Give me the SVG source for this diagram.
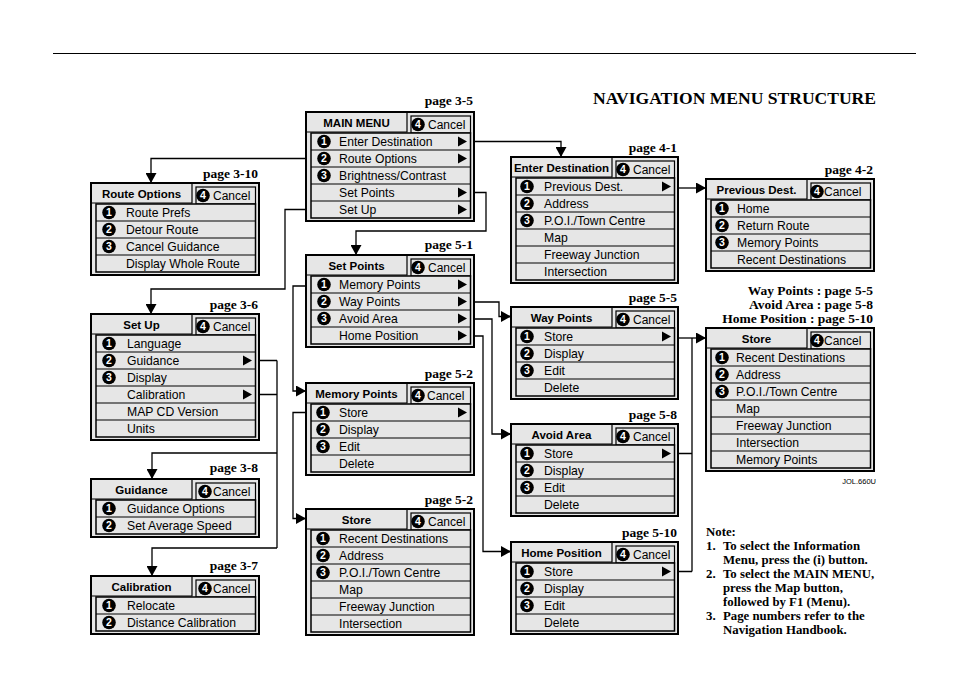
<svg xmlns="http://www.w3.org/2000/svg" width="954" height="685" viewBox="0 0 954 685">
<defs>
<style>
.outer{fill:#e6e6e6;stroke:#000;stroke-width:2}
.tab{fill:none;stroke:#000;stroke-width:1.2}
.ctab{fill:#e6e6e6;stroke:#000;stroke-width:1.2}
.list{fill:#e6e6e6;stroke:#000;stroke-width:1.5}
.sep{stroke:#000;stroke-width:1}
.ttl{font-family:"Liberation Sans",Arial,sans-serif;font-weight:bold;font-size:11.5px;text-anchor:middle;fill:#000}
.row{font-family:"Liberation Sans",Arial,sans-serif;font-size:12.2px;fill:#000}
.can{font-family:"Liberation Sans",Arial,sans-serif;font-size:12px;fill:#000}
.num{font-family:"Liberation Sans",Arial,sans-serif;font-weight:bold;font-size:10.5px;fill:#fff;text-anchor:middle}
.pg{font-family:"Liberation Serif","Times New Roman",serif;font-weight:bold;font-size:13.5px;text-anchor:end;fill:#000}
.note{font-family:"Liberation Serif","Times New Roman",serif;font-weight:bold;font-size:12.8px;fill:#000}
.conn{fill:none;stroke:#000;stroke-width:1.3}
</style>
<marker id="ah" markerUnits="userSpaceOnUse" markerWidth="11" markerHeight="11" refX="10" refY="5.5" orient="auto">
<path d="M0 0 L10 5.5 L0 11 Z" fill="#000"/>
</marker>
</defs>
<rect width="954" height="685" fill="#fff"/>
<line x1="53" y1="53.5" x2="916" y2="53.5" stroke="#000" stroke-width="1"/>
<text x="876" y="104" font-family="'Liberation Serif','Times New Roman',serif" font-weight="bold" font-size="17" text-anchor="end" textLength="283" lengthAdjust="spacingAndGlyphs">NAVIGATION MENU STRUCTURE</text>

<!-- page labels -->
<g id="pages">
<text class="pg" x="473" y="105">page 3-5</text>
<text class="pg" x="258" y="178">page 3-10</text>
<text class="pg" x="677" y="152">page 4-1</text>
<text class="pg" x="873" y="174">page 4-2</text>
<text class="pg" x="473" y="249">page 5-1</text>
<text class="pg" x="258" y="309">page 3-6</text>
<text class="pg" x="677" y="302">page 5-5</text>
<text class="pg" x="473" y="378">page 5-2</text>
<text class="pg" x="677" y="419">page 5-8</text>
<text class="pg" x="258" y="472">page 3-8</text>
<text class="pg" x="473" y="504">page 5-2</text>
<text class="pg" x="677" y="537">page 5-10</text>
<text class="pg" x="258" y="570">page 3-7</text>
<text class="pg" x="873" y="295">Way Points : page 5-5</text>
<text class="pg" x="873" y="309">Avoid Area : page 5-8</text>
<text class="pg" x="873" y="323">Home Position : page 5-10</text>
<text x="876" y="484" font-family="'Liberation Sans',Arial,sans-serif" font-size="7.5" text-anchor="end">JOL.660U</text>
</g>

<!-- connectors -->
<g id="connectors">
<path class="conn" marker-end="url(#ah)" d="M474 141.5 H561 V157"/>
<path class="conn" marker-end="url(#ah)" d="M306 158.5 H151 V183"/>
<path class="conn" marker-end="url(#ah)" d="M474 192.5 H486 V231 H356 V255"/>
<path class="conn" marker-end="url(#ah)" d="M306 209.5 H285 V289 H151 V314"/>
<path class="conn" marker-end="url(#ah)" d="M678 188 H706"/>
<path class="conn" marker-end="url(#ah)" d="M306 286 H293 V391 H306"/>
<path class="conn" marker-end="url(#ah)" d="M474 302 H499 V316.5 H511"/>
<path class="conn" marker-end="url(#ah)" d="M474 319 H492 V434 H511"/>
<path class="conn" marker-end="url(#ah)" d="M474 336 H483 V551.5 H511"/>
<path class="conn" marker-end="url(#ah)" d="M678 338 H706"/>
<path class="conn" d="M692 338 V571.5 M678 453.5 H692 M678 571.5 H692"/>
<path class="conn" marker-end="url(#ah)" d="M306 412.5 H293 V518.5 H306"/>
<path class="conn" d="M259 360.5 H277 M259 394.5 H277 M277 360.5 V548"/>
<path class="conn" marker-end="url(#ah)" d="M277 453 H152 V479"/>
<path class="conn" marker-end="url(#ah)" d="M277 548 H152 V576"/>
</g>

<!-- MAIN MENU -->
<g id="main-menu" transform="translate(306,112)">
<rect class="outer" x="0" y="0" width="168" height="109"/>
<path class="tab" d="M101 0 V20 H0"/>
<rect class="ctab" x="105" y="4" width="59.5" height="17"/>
<text class="ttl" x="50.5" y="14.5">MAIN MENU</text>
<circle cx="112" cy="12.5" r="6.8"/><text class="num" x="112" y="16.2">4</text><text class="can" x="122" y="17">Cancel</text>
<rect class="list" x="5" y="21" width="159.5" height="85"/>
<path class="sep" d="M5 38H164.5M5 55H164.5M5 72H164.5M5 89H164.5"/>
<circle cx="18" cy="29.5" r="6.8"/><text class="num" x="18" y="33.3">1</text>
<circle cx="18" cy="46.5" r="6.8"/><text class="num" x="18" y="50.3">2</text>
<circle cx="18" cy="63.5" r="6.8"/><text class="num" x="18" y="67.3">3</text>
<text class="row" x="33" y="33.8">Enter Destination</text>
<text class="row" x="33" y="50.8">Route Options</text>
<text class="row" x="33" y="67.8">Brightness/Contrast</text>
<text class="row" x="33" y="84.8">Set Points</text>
<text class="row" x="33" y="101.8">Set Up</text>
<path d="M152 24.5 L161 29.5 L152 34.5Z M152 41.5 L161 46.5 L152 51.5Z M152 75.5 L161 80.5 L152 85.5Z M152 92.5 L161 97.5 L152 102.5Z"/>
</g>

<!-- Route Options -->
<g id="route-options" transform="translate(91,183)">
<rect class="outer" x="0" y="0" width="168" height="92"/>
<path class="tab" d="M101 0 V20 H0"/>
<rect class="ctab" x="105" y="4" width="59.5" height="17"/>
<text class="ttl" x="50.5" y="14.5">Route Options</text>
<circle cx="112" cy="12.5" r="6.8"/><text class="num" x="112" y="16.2">4</text><text class="can" x="122" y="17">Cancel</text>
<rect class="list" x="5" y="21" width="159.5" height="68"/>
<path class="sep" d="M5 38H164.5M5 55H164.5M5 72H164.5"/>
<circle cx="18" cy="29.5" r="6.8"/><text class="num" x="18" y="33.3">1</text>
<circle cx="18" cy="46.5" r="6.8"/><text class="num" x="18" y="50.3">2</text>
<circle cx="18" cy="63.5" r="6.8"/><text class="num" x="18" y="67.3">3</text>
<text class="row" x="35" y="33.8">Route Prefs</text>
<text class="row" x="35" y="50.8">Detour Route</text>
<text class="row" x="35" y="67.8">Cancel Guidance</text>
<text class="row" x="35" y="84.8">Display Whole Route</text>
</g>

<!-- Enter Destination -->
<g id="enter-destination" transform="translate(511,157)">
<rect class="outer" x="0" y="0" width="167" height="126"/>
<path class="tab" d="M101 0 V20 H0"/>
<rect class="ctab" x="105" y="4" width="58.5" height="17"/>
<text class="ttl" x="50.5" y="14.5">Enter Destination</text>
<circle cx="112" cy="12.5" r="6.8"/><text class="num" x="112" y="16.2">4</text><text class="can" x="122" y="17">Cancel</text>
<rect class="list" x="5" y="21" width="158.5" height="102"/>
<path class="sep" d="M5 38H163.5M5 55H163.5M5 72H163.5M5 89H163.5M5 106H163.5"/>
<circle cx="16" cy="29.5" r="6.8"/><text class="num" x="16" y="33.3">1</text>
<circle cx="16" cy="46.5" r="6.8"/><text class="num" x="16" y="50.3">2</text>
<circle cx="16" cy="63.5" r="6.8"/><text class="num" x="16" y="67.3">3</text>
<text class="row" x="33" y="33.8">Previous Dest.</text>
<text class="row" x="33" y="50.8">Address</text>
<text class="row" x="33" y="67.8">P.O.I./Town Centre</text>
<text class="row" x="33" y="84.8">Map</text>
<text class="row" x="33" y="101.8">Freeway Junction</text>
<text class="row" x="33" y="118.8">Intersection</text>
<path d="M151 24.5 L160 29.5 L151 34.5Z"/>
</g>

<!-- Previous Dest. -->
<g id="previous-dest" transform="translate(706,179)">
<rect class="outer" x="0" y="0" width="168" height="92"/>
<path class="tab" d="M101 0 V20 H0"/>
<rect class="ctab" x="105" y="4" width="59.5" height="17"/>
<text class="ttl" x="50.5" y="14.5">Previous Dest.</text>
<circle cx="111" cy="12.5" r="6.8"/><text class="num" x="111" y="16.2">4</text><text class="can" x="118" y="17">Cancel</text>
<rect class="list" x="5" y="21" width="159.5" height="68"/>
<path class="sep" d="M5 38H164.5M5 55H164.5M5 72H164.5"/>
<circle cx="16" cy="29.5" r="6.8"/><text class="num" x="16" y="33.3">1</text>
<circle cx="16" cy="46.5" r="6.8"/><text class="num" x="16" y="50.3">2</text>
<circle cx="16" cy="63.5" r="6.8"/><text class="num" x="16" y="67.3">3</text>
<text class="row" x="31" y="33.8">Home</text>
<text class="row" x="31" y="50.8">Return Route</text>
<text class="row" x="31" y="67.8">Memory Points</text>
<text class="row" x="31" y="84.8">Recent Destinations</text>
</g>

<!-- Set Points -->
<g id="set-points" transform="translate(306,255)">
<rect class="outer" x="0" y="0" width="168" height="92"/>
<path class="tab" d="M101 0 V20 H0"/>
<rect class="ctab" x="105" y="4" width="59.5" height="17"/>
<text class="ttl" x="50.5" y="14.5">Set Points</text>
<circle cx="112" cy="12.5" r="6.8"/><text class="num" x="112" y="16.2">4</text><text class="can" x="122" y="17">Cancel</text>
<rect class="list" x="5" y="21" width="159.5" height="68"/>
<path class="sep" d="M5 38H164.5M5 55H164.5M5 72H164.5"/>
<circle cx="18" cy="29.5" r="6.8"/><text class="num" x="18" y="33.3">1</text>
<circle cx="18" cy="46.5" r="6.8"/><text class="num" x="18" y="50.3">2</text>
<circle cx="18" cy="63.5" r="6.8"/><text class="num" x="18" y="67.3">3</text>
<text class="row" x="33" y="33.8">Memory Points</text>
<text class="row" x="33" y="50.8">Way Points</text>
<text class="row" x="33" y="67.8">Avoid Area</text>
<text class="row" x="33" y="84.8">Home Position</text>
<path d="M152 24.5 L161 29.5 L152 34.5Z M152 41.5 L161 46.5 L152 51.5Z M152 58.5 L161 63.5 L152 68.5Z M152 75.5 L161 80.5 L152 85.5Z"/>
</g>

<!-- Set Up -->
<g id="set-up" transform="translate(91,314)">
<rect class="outer" x="0" y="0" width="168" height="126"/>
<path class="tab" d="M101 0 V20 H0"/>
<rect class="ctab" x="105" y="4" width="59.5" height="17"/>
<text class="ttl" x="50.5" y="14.5">Set Up</text>
<circle cx="112" cy="12.5" r="6.8"/><text class="num" x="112" y="16.2">4</text><text class="can" x="122" y="17">Cancel</text>
<rect class="list" x="5" y="21" width="159.5" height="102"/>
<path class="sep" d="M5 38H164.5M5 55H164.5M5 72H164.5M5 89H164.5M5 106H164.5"/>
<circle cx="18" cy="29.5" r="6.8"/><text class="num" x="18" y="33.3">1</text>
<circle cx="18" cy="46.5" r="6.8"/><text class="num" x="18" y="50.3">2</text>
<circle cx="18" cy="63.5" r="6.8"/><text class="num" x="18" y="67.3">3</text>
<text class="row" x="36" y="33.8">Language</text>
<text class="row" x="36" y="50.8">Guidance</text>
<text class="row" x="36" y="67.8">Display</text>
<text class="row" x="36" y="84.8">Calibration</text>
<text class="row" x="36" y="101.8">MAP CD Version</text>
<text class="row" x="36" y="118.8">Units</text>
<path d="M152 41.5 L161 46.5 L152 51.5Z M152 75.5 L161 80.5 L152 85.5Z"/>
</g>

<!-- Way Points -->
<g id="way-points" transform="translate(511,307)">
<rect class="outer" x="0" y="0" width="167" height="92"/>
<path class="tab" d="M101 0 V20 H0"/>
<rect class="ctab" x="105" y="4" width="58.5" height="17"/>
<text class="ttl" x="50.5" y="14.5">Way Points</text>
<circle cx="112" cy="12.5" r="6.8"/><text class="num" x="112" y="16.2">4</text><text class="can" x="122" y="17">Cancel</text>
<rect class="list" x="5" y="21" width="158.5" height="68"/>
<path class="sep" d="M5 38H163.5M5 55H163.5M5 72H163.5"/>
<circle cx="16" cy="29.5" r="6.8"/><text class="num" x="16" y="33.3">1</text>
<circle cx="16" cy="46.5" r="6.8"/><text class="num" x="16" y="50.3">2</text>
<circle cx="16" cy="63.5" r="6.8"/><text class="num" x="16" y="67.3">3</text>
<text class="row" x="33" y="33.8">Store</text>
<text class="row" x="33" y="50.8">Display</text>
<text class="row" x="33" y="67.8">Edit</text>
<text class="row" x="33" y="84.8">Delete</text>
<path d="M151 24.5 L160 29.5 L151 34.5Z"/>
</g>

<!-- Store (right) -->
<g id="store-right" transform="translate(706,328)">
<rect class="outer" x="0" y="0" width="168" height="143"/>
<path class="tab" d="M101 0 V20 H0"/>
<rect class="ctab" x="105" y="4" width="59.5" height="17"/>
<text class="ttl" x="50.5" y="14.5">Store</text>
<circle cx="111" cy="12.5" r="6.8"/><text class="num" x="111" y="16.2">4</text><text class="can" x="118" y="17">Cancel</text>
<rect class="list" x="5" y="21" width="159.5" height="119"/>
<path class="sep" d="M5 38H164.5M5 55H164.5M5 72H164.5M5 89H164.5M5 106H164.5M5 123H164.5"/>
<circle cx="16" cy="29.5" r="6.8"/><text class="num" x="16" y="33.3">1</text>
<circle cx="16" cy="46.5" r="6.8"/><text class="num" x="16" y="50.3">2</text>
<circle cx="16" cy="63.5" r="6.8"/><text class="num" x="16" y="67.3">3</text>
<text class="row" x="30" y="33.8">Recent Destinations</text>
<text class="row" x="30" y="50.8">Address</text>
<text class="row" x="30" y="67.8">P.O.I./Town Centre</text>
<text class="row" x="30" y="84.8">Map</text>
<text class="row" x="30" y="101.8">Freeway Junction</text>
<text class="row" x="30" y="118.8">Intersection</text>
<text class="row" x="30" y="135.8">Memory Points</text>
</g>

<!-- Memory Points -->
<g id="memory-points" transform="translate(306,383)">
<rect class="outer" x="0" y="0" width="168" height="92"/>
<path class="tab" d="M101 0 V20 H0"/>
<rect class="ctab" x="105" y="4" width="59.5" height="17"/>
<text class="ttl" x="50.5" y="14.5">Memory Points</text>
<circle cx="112" cy="12.5" r="6.8"/><text class="num" x="112" y="16.2">4</text><text class="can" x="121" y="17">Cancel</text>
<rect class="list" x="5" y="21" width="159.5" height="68"/>
<path class="sep" d="M5 38H164.5M5 55H164.5M5 72H164.5"/>
<circle cx="17" cy="29.5" r="6.8"/><text class="num" x="17" y="33.3">1</text>
<circle cx="17" cy="46.5" r="6.8"/><text class="num" x="17" y="50.3">2</text>
<circle cx="17" cy="63.5" r="6.8"/><text class="num" x="17" y="67.3">3</text>
<text class="row" x="33" y="33.8">Store</text>
<text class="row" x="33" y="50.8">Display</text>
<text class="row" x="33" y="67.8">Edit</text>
<text class="row" x="33" y="84.8">Delete</text>
<path d="M152 24.5 L161 29.5 L152 34.5Z"/>
</g>

<!-- Avoid Area -->
<g id="avoid-area" transform="translate(511,424)">
<rect class="outer" x="0" y="0" width="167" height="92"/>
<path class="tab" d="M101 0 V20 H0"/>
<rect class="ctab" x="105" y="4" width="58.5" height="17"/>
<text class="ttl" x="50.5" y="14.5">Avoid Area</text>
<circle cx="112" cy="12.5" r="6.8"/><text class="num" x="112" y="16.2">4</text><text class="can" x="122" y="17">Cancel</text>
<rect class="list" x="5" y="21" width="158.5" height="68"/>
<path class="sep" d="M5 38H163.5M5 55H163.5M5 72H163.5"/>
<circle cx="16" cy="29.5" r="6.8"/><text class="num" x="16" y="33.3">1</text>
<circle cx="16" cy="46.5" r="6.8"/><text class="num" x="16" y="50.3">2</text>
<circle cx="16" cy="63.5" r="6.8"/><text class="num" x="16" y="67.3">3</text>
<text class="row" x="33" y="33.8">Store</text>
<text class="row" x="33" y="50.8">Display</text>
<text class="row" x="33" y="67.8">Edit</text>
<text class="row" x="33" y="84.8">Delete</text>
<path d="M151 24.5 L160 29.5 L151 34.5Z"/>
</g>

<!-- Guidance -->
<g id="guidance" transform="translate(91,479)">
<rect class="outer" x="0" y="0" width="168" height="58"/>
<path class="tab" d="M101 0 V20 H0"/>
<rect class="ctab" x="105" y="4" width="59.5" height="17"/>
<text class="ttl" x="50.5" y="14.5">Guidance</text>
<circle cx="114" cy="12.5" r="6.8"/><text class="num" x="114" y="16.2">4</text><text class="can" x="122" y="17">Cancel</text>
<rect class="list" x="5" y="21" width="159.5" height="34"/>
<path class="sep" d="M5 38H164.5"/>
<circle cx="18" cy="29.5" r="6.8"/><text class="num" x="18" y="33.3">1</text>
<circle cx="18" cy="46.5" r="6.8"/><text class="num" x="18" y="50.3">2</text>
<text class="row" x="36" y="33.8">Guidance Options</text>
<text class="row" x="36" y="50.8">Set Average Speed</text>
</g>

<!-- Store (left) -->
<g id="store-left" transform="translate(306,509)">
<rect class="outer" x="0" y="0" width="168" height="126"/>
<path class="tab" d="M101 0 V20 H0"/>
<rect class="ctab" x="105" y="4" width="59.5" height="17"/>
<text class="ttl" x="50.5" y="14.5">Store</text>
<circle cx="112" cy="12.5" r="6.8"/><text class="num" x="112" y="16.2">4</text><text class="can" x="122" y="17">Cancel</text>
<rect class="list" x="5" y="21" width="159.5" height="102"/>
<path class="sep" d="M5 38H164.5M5 55H164.5M5 72H164.5M5 89H164.5M5 106H164.5"/>
<circle cx="17" cy="29.5" r="6.8"/><text class="num" x="17" y="33.3">1</text>
<circle cx="17" cy="46.5" r="6.8"/><text class="num" x="17" y="50.3">2</text>
<circle cx="17" cy="63.5" r="6.8"/><text class="num" x="17" y="67.3">3</text>
<text class="row" x="33" y="33.8">Recent Destinations</text>
<text class="row" x="33" y="50.8">Address</text>
<text class="row" x="33" y="67.8">P.O.I./Town Centre</text>
<text class="row" x="33" y="84.8">Map</text>
<text class="row" x="33" y="101.8">Freeway Junction</text>
<text class="row" x="33" y="118.8">Intersection</text>
</g>

<!-- Home Position -->
<g id="home-position" transform="translate(511,542)">
<rect class="outer" x="0" y="0" width="167" height="92"/>
<path class="tab" d="M101 0 V20 H0"/>
<rect class="ctab" x="105" y="4" width="58.5" height="17"/>
<text class="ttl" x="50.5" y="14.5">Home Position</text>
<circle cx="112" cy="12.5" r="6.8"/><text class="num" x="112" y="16.2">4</text><text class="can" x="122" y="17">Cancel</text>
<rect class="list" x="5" y="21" width="158.5" height="68"/>
<path class="sep" d="M5 38H163.5M5 55H163.5M5 72H163.5"/>
<circle cx="16" cy="29.5" r="6.8"/><text class="num" x="16" y="33.3">1</text>
<circle cx="16" cy="46.5" r="6.8"/><text class="num" x="16" y="50.3">2</text>
<circle cx="16" cy="63.5" r="6.8"/><text class="num" x="16" y="67.3">3</text>
<text class="row" x="33" y="33.8">Store</text>
<text class="row" x="33" y="50.8">Display</text>
<text class="row" x="33" y="67.8">Edit</text>
<text class="row" x="33" y="84.8">Delete</text>
<path d="M151 24.5 L160 29.5 L151 34.5Z"/>
</g>

<!-- Calibration -->
<g id="calibration" transform="translate(91,576)">
<rect class="outer" x="0" y="0" width="168" height="58"/>
<path class="tab" d="M101 0 V20 H0"/>
<rect class="ctab" x="105" y="4" width="59.5" height="17"/>
<text class="ttl" x="50.5" y="14.5">Calibration</text>
<circle cx="114" cy="12.5" r="6.8"/><text class="num" x="114" y="16.2">4</text><text class="can" x="122" y="17">Cancel</text>
<rect class="list" x="5" y="21" width="159.5" height="34"/>
<path class="sep" d="M5 38H164.5"/>
<circle cx="18" cy="29.5" r="6.8"/><text class="num" x="18" y="33.3">1</text>
<circle cx="18" cy="46.5" r="6.8"/><text class="num" x="18" y="50.3">2</text>
<text class="row" x="36" y="33.8">Relocate</text>
<text class="row" x="36" y="50.8">Distance Calibration</text>
</g>

<!-- Note -->
<g id="note">
<text class="note" x="706" y="536">Note:</text>
<text class="note" x="706" y="550">1.</text><text class="note" x="723" y="550">To select the Information</text>
<text class="note" x="723" y="564">Menu, press the (i) button.</text>
<text class="note" x="706" y="578">2.</text><text class="note" x="723" y="578">To select the MAIN MENU,</text>
<text class="note" x="723" y="592">press the Map button,</text>
<text class="note" x="723" y="606">followed by F1 (Menu).</text>
<text class="note" x="706" y="620">3.</text><text class="note" x="723" y="620">Page numbers refer to the</text>
<text class="note" x="723" y="634">Navigation Handbook.</text>
</g>
</svg>
